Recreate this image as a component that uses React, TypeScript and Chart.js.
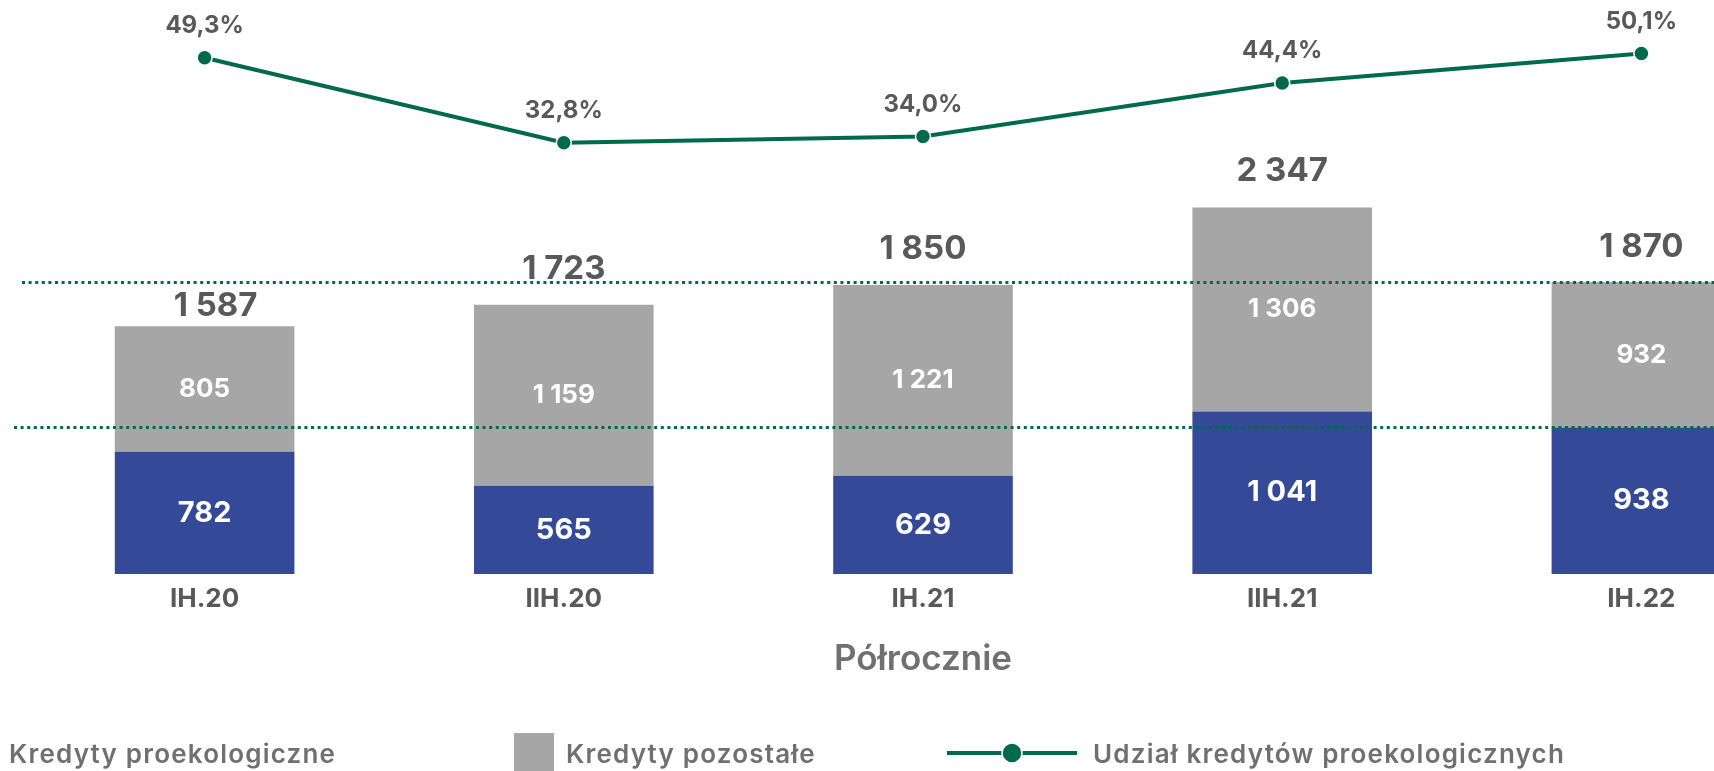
import React, { useEffect, useRef } from 'react';
import { Chart, registerables } from 'chart.js';

Chart.register(...registerables);

// ---- data ----
const categories = ['IH.20', 'IIH.20', 'IH.21', 'IIH.21', 'IH.22'];
const ecoLoans = [782, 565, 629, 1041, 938];
const otherLoans = [805, 1159, 1221, 1306, 932];
const totals = [1587, 1723, 1850, 2347, 1870];
const ecoShare = [49.3, 32.8, 34.0, 44.4, 50.1];
const referenceLevels = [1870, 938];
const seriesNames = ['Kredyty proekologiczne', 'Kredyty pozostałe', 'Udział kredytów proekologicznych'];
const axisTitle = 'Półrocznie';

// ---- styles ----
const BLUE = '#344A98';
const GRAY = '#A6A6A6';
const GREEN = '#006A4A';
const LABEL = '#595959';
const SOFT = '#707070';
const FONT = 'Inter, "DejaVu Sans", sans-serif';
const totalOffsets = [20, 36, 36, 36, 35];
const totalShiftX = [11, 0, 0, 0, 0];
const refLineStarts = [22, 14];

const fmtNum = (n: number) => {
  const s = String(Math.round(n));
  return s.replace(/\B(?=(\d{3})+(?!\d))/g, ' ');
};
const fmtPct = (v: number) => v.toFixed(1).replace('.', ',') + '%';

const refLinesPlugin = {
  id: 'refLines',
  afterDatasetsDraw(chart: any) {
    const { ctx } = chart;
    const y = chart.scales.y;
    ctx.save();
    ctx.strokeStyle = GREEN;
    ctx.lineWidth = 3;
    ctx.setLineDash([3, 3.6]);
    referenceLevels.forEach((v, i) => {
      const py = Math.round(y.getPixelForValue(v)) + 0.5;
      ctx.beginPath();
      ctx.moveTo(refLineStarts[i], py);
      ctx.lineTo(chart.width, py);
      ctx.stroke();
    });
    ctx.restore();
  },
};

const labelsPlugin = {
  id: 'valueLabels',
  afterDatasetsDraw(chart: any) {
    const { ctx } = chart;
    ctx.save();
    ctx.textAlign = 'center';
    ctx.textBaseline = 'middle';
    // segment labels
    [0, 1].forEach((di) => {
      const meta = chart.getDatasetMeta(di);
      const vals = chart.data.datasets[di].data as number[];
      meta.data.forEach((bar: any, j: number) => {
        const mid = (bar.y + bar.base) / 2;
        ctx.fillStyle = '#ffffff';
        ctx.font = di === 0 ? `700 29px ${FONT}` : `700 26px ${FONT}`;
        ctx.fillText(fmtNum(vals[j]), bar.x, mid);
      });
    });
    // totals
    const top = chart.getDatasetMeta(1);
    ctx.fillStyle = LABEL;
    ctx.font = `700 33px ${FONT}`;
    top.data.forEach((bar: any, j: number) => {
      ctx.fillText(fmtNum(totals[j]), bar.x + totalShiftX[j], bar.y - totalOffsets[j]);
    });
    // percentages
    const line = chart.getDatasetMeta(2);
    ctx.font = `700 24px ${FONT}`;
    line.data.forEach((pt: any, j: number) => {
      ctx.fillText(fmtPct(ecoShare[j]), pt.x, pt.y - 32);
    });
    ctx.restore();
  },
};

const legendPlugin = {
  id: 'customLegend',
  afterDraw(chart: any) {
    const { ctx } = chart;
    const ds = chart.data.datasets;
    const cy = 755;
    ctx.save();
    ctx.font = `600 26px ${FONT}`;
    try {
      (ctx as any).letterSpacing = '1.2px';
    } catch (e) {
      /* ignore */
    }
    ctx.textBaseline = 'middle';
    ctx.textAlign = 'left';
    // item 1 (swatch falls outside the visible area)
    ctx.fillStyle = ds[0].backgroundColor;
    ctx.fillRect(-52, 733, 40, 40);
    ctx.fillStyle = SOFT;
    ctx.fillText(ds[0].label, 9, cy);
    // item 2
    ctx.fillStyle = ds[1].backgroundColor;
    ctx.fillRect(514, 733, 40, 40);
    ctx.fillStyle = SOFT;
    ctx.fillText(ds[1].label, 566, cy);
    // item 3
    ctx.strokeStyle = ds[2].borderColor;
    ctx.lineWidth = 4;
    ctx.beginPath();
    ctx.moveTo(947, 753);
    ctx.lineTo(1077, 753);
    ctx.stroke();
    ctx.beginPath();
    ctx.arc(1012, 753, 10, 0, Math.PI * 2);
    ctx.fillStyle = ds[2].borderColor;
    ctx.fill();
    ctx.strokeStyle = '#ffffff';
    ctx.lineWidth = 1.5;
    ctx.stroke();
    ctx.fillStyle = SOFT;
    ctx.fillText(ds[2].label, 1093, cy);
    ctx.restore();
  },
};

export default function App() {
  const ref = useRef<HTMLCanvasElement | null>(null);

  useEffect(() => {
    if (!ref.current) return;
    const chart = new Chart(ref.current, {
      type: 'bar',
      data: {
        labels: categories,
        datasets: [
          {
            type: 'bar',
            label: seriesNames[0],
            data: ecoLoans,
            backgroundColor: BLUE,
            stack: 's',
            yAxisID: 'y',
            order: 2,
            barPercentage: 0.5,
            categoryPercentage: 1,
          },
          {
            type: 'bar',
            label: seriesNames[1],
            data: otherLoans,
            backgroundColor: GRAY,
            stack: 's',
            yAxisID: 'y',
            order: 2,
            barPercentage: 0.5,
            categoryPercentage: 1,
          },
          {
            type: 'line',
            label: seriesNames[2],
            data: ecoShare,
            yAxisID: 'y1',
            borderColor: GREEN,
            backgroundColor: GREEN,
            borderWidth: 4,
            pointRadius: 7.5,
            pointBackgroundColor: GREEN,
            pointBorderColor: '#ffffff',
            pointBorderWidth: 1.5,
            tension: 0,
            order: 0,
          } as any,
        ],
      },
      options: {
        animation: false,
        responsive: true,
        maintainAspectRatio: false,
        layout: { padding: { left: 25, right: 7.5, top: 10, bottom: 87 } },
        plugins: {
          legend: { display: false },
          tooltip: { enabled: false },
        },
        scales: {
          x: {
            stacked: true,
            offset: true,
            grid: { display: false, drawTicks: false },
            border: { display: false },
            ticks: { color: LABEL, font: { family: FONT, size: 26, weight: 700 }, padding: 10 },
            title: {
              display: true,
              text: axisTitle,
              color: SOFT,
              font: { family: FONT, size: 35, weight: 600 },
              padding: { top: 0, bottom: 4 },
            },
            afterFit(scale: any) {
              scale.height = 110;
            },
          },
          y: { stacked: true, display: false, min: 0, max: 3611 },
          y1: { display: false, min: -50.95, max: 58.56 },
        },
      },
      plugins: [refLinesPlugin, labelsPlugin, legendPlugin],
    });
    return () => chart.destroy();
  }, []);

  return (
    <div style={{ position: 'fixed', left: 0, top: 0, width: 1714, height: 771, overflow: 'hidden', background: '#fff' }}>
      <div style={{ position: 'absolute', left: 0, top: 0, width: 1830, height: 771 }}>
        <canvas ref={ref} />
      </div>
    </div>
  );
}
